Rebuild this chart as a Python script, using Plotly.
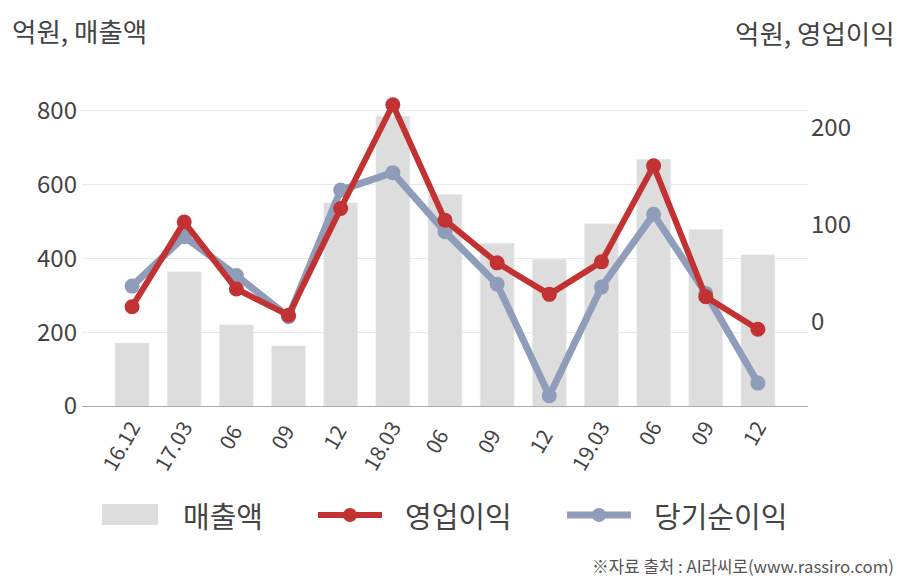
import plotly.graph_objects as go

categories = ["16.12", "17.03", "06 ", "09 ", "12 ", "18.03", "06  ", "09  ", "12  ", "19.03", "06", "09", "12"]
sales = [171, 364, 220, 163, 551, 786, 574, 441, 398, 494, 669, 479, 410]
op_profit = [15.8, 103, 34, 7, 117, 224, 105, 61, 28.5, 62, 161, 26, -7.5]
net_profit = [37, 88, 48, 5.5, 136, 154, 93, 39, -76, 36, 111, 29.5, -63]
legend_names = ["매출액", "영업이익", "당기순이익"]

FONT = "Noto Sans CJK KR"
TXT = "#444444"
RED = "#c23232"
BLUE = "#8f9dba"
BARC = "#dddddd"

# page is offset by the 8px body margin; plot area in page pixels: x 82..808, y 80..406
PL, PR, PT, PB = 82, 808, 80, 406
def px(x):
    return (x - PL) / (PR - PL)
def py(y):
    return (PB - y) / (PB - PT)

fig = go.Figure()
fig.add_trace(go.Bar(x=categories, y=sales, name=legend_names[0], marker_color=BARC,
                     width=0.65, yaxis="y"))
fig.add_trace(go.Scatter(x=categories, y=net_profit, name=legend_names[2], mode="lines+markers",
                         line=dict(color=BLUE, width=7), marker=dict(size=15, color=BLUE),
                         yaxis="y2"))
fig.add_trace(go.Scatter(x=categories, y=op_profit, name=legend_names[1], mode="lines+markers",
                         line=dict(color=RED, width=6), marker=dict(size=15, color=RED),
                         yaxis="y2"))

shapes = [
    dict(type="rect", xref="paper", yref="paper", x0=px(102), x1=px(158), y0=py(525), y1=py(504),
         fillcolor=BARC, line=dict(width=0)),
    dict(type="line", xref="paper", yref="paper", x0=px(318), x1=px(382), y0=py(515), y1=py(515),
         line=dict(color=RED, width=6)),
    dict(type="circle", xref="paper", yref="paper", x0=px(343), x1=px(357), y0=py(522), y1=py(508),
         fillcolor=RED, line=dict(width=0)),
    dict(type="line", xref="paper", yref="paper", x0=px(567), x1=px(631), y0=py(515), y1=py(515),
         line=dict(color=BLUE, width=7)),
    dict(type="circle", xref="paper", yref="paper", x0=px(592), x1=px(606), y0=py(522), y1=py(508),
         fillcolor=BLUE, line=dict(width=0)),
]

def ann(text, x, y, xa, size, color=TXT):
    return dict(text=text, xref="paper", yref="paper", x=px(x), y=py(y), xanchor=xa,
                yanchor="middle", showarrow=False, font=dict(size=size, color=color, family=FONT))

annotations = [
    ann("억원, 매출액", 10, 30, "left", 26.5),
    ann("억원, 영업이익", 897, 33, "right", 26.5),
    ann(legend_names[0], 181, 515, "left", 29),
    ann(legend_names[1], 403, 515, "left", 29),
    ann(legend_names[2], 652, 515, "left", 29),
    ann("※자료 출처 : AI라씨로(www.rassiro.com)", 896, 566, "right", 16.8, "#555555"),
]

fig.update_layout(
    width=900, height=572,
    margin=dict(l=PL - 8, r=908 - PR, t=PT - 8, b=580 - PB),
    paper_bgcolor="white", plot_bgcolor="white",
    font=dict(family=FONT, color=TXT),
    xaxis=dict(type="category", range=[-0.96, 12.96], tickangle=-60,
               tickfont=dict(size=21, color=TXT), showgrid=False,
               showline=True, linecolor="#aaaaaa", linewidth=1, ticks=""),
    yaxis=dict(range=[0, 884], tickvals=[0, 200, 400, 600, 800],
               tickfont=dict(size=24, color=TXT), showgrid=True, gridcolor="#e8e8e8",
               zeroline=False, ticklabelstandoff=4),
    yaxis2=dict(range=[-86.6, 249.5], tickvals=[0, 100, 200], overlaying="y", side="right",
                tickfont=dict(size=24, color=TXT), showgrid=False, zeroline=False,
                ticklabelstandoff=2),
    showlegend=False,
    shapes=shapes,
    annotations=annotations,
)
fig.write_html("out.html")
